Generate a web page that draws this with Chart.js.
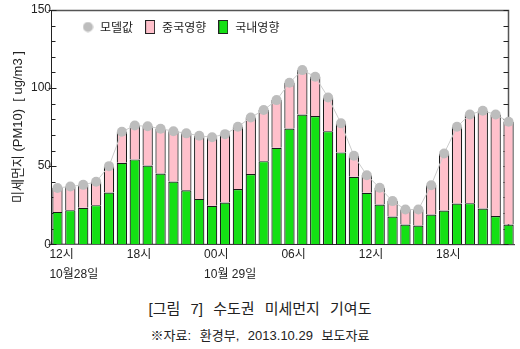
<!DOCTYPE html>
<html lang="ko">
<head>
<meta charset="utf-8">
<script src="https://cdn.jsdelivr.net/npm/chart.js@4.4.1/dist/chart.umd.min.js"></script>
<style>
  html, body { margin: 0; padding: 0; background: #fff; }
  body { width: 520px; height: 349px; position: relative; overflow: hidden;
         font-family: 'Liberation Sans', 'Noto Sans CJK KR', sans-serif; color: #222; }
  #wrap { position: absolute; left: 0; top: 0; width: 520px; height: 290px; }
  .cap { position: absolute; left: 0; width: 520px; text-align: center; white-space: nowrap; }
  #cap1 { top: 299px; font-size: 15px; line-height: 20px; word-spacing: 6px; }
  #cap2 { top: 328px; font-size: 13px; line-height: 16px; word-spacing: 5px; }
</style>
</head>
<body>
<div id="wrap"><canvas id="pm10Chart" width="520" height="290"></canvas></div>
<div class="cap" id="cap1">[그림 7] 수도권 미세먼지 기여도</div>
<div class="cap" id="cap2">※자료: 환경부, 2013.10.29 보도자료</div>
<script>
// hours from 10/28 12시 to 10/29 23시
var hourLabels = ['12시','13시','14시','15시','16시','17시','18시','19시','20시','21시','22시','23시',
                  '00시','01시','02시','03시','04시','05시','06시','07시','08시','09시','10시','11시',
                  '12시','13시','14시','15시','16시','17시','18시','19시','20시','21시','22시','23시'];
var dayLabels = ['10월28일', '10월 29일'];
var dayStart = [0, 12];

// 모델값 (grey dots)
var modelValues = [36, 37, 38, 40, 50, 72, 76, 75.5, 74, 72.4, 71, 69.5,
                   68.5, 70.5, 75.2, 81.2, 85.9, 92.3, 103.4, 111.5, 107.3, 94, 77.4, 56.7,
                   44.2, 36.1, 27.6, 22.2, 22.2, 37.8, 58.1, 75.2, 83.1, 85.5, 83.1, 78.4];
// 국내영향 (green)
var domesticValues = [20.7, 21.8, 23.3, 25, 33.1, 52.1, 54.3, 50.4, 45.3, 40.2, 34.6, 29,
                      24.6, 26.7, 35.3, 44.9, 53.2, 61.8, 74.1, 83.1, 82.1, 72.4, 58.8, 43.2,
                      32.9, 25.4, 17.7, 12.6, 12, 19, 21.6, 26.1, 26.3, 22.9, 18, 12.6];
// 중국영향 (pink, stacked on top)
var chinaValues = [15.3, 15.2, 14.7, 15, 16.9, 19.9, 21.7, 25.1, 28.7, 32.2, 36.4, 40.5,
                   43.9, 43.8, 39.9, 36.3, 32.7, 30.5, 29.3, 28.4, 25.2, 21.6, 18.6, 13.5,
                   11.3, 10.7, 9.9, 9.6, 10.2, 18.8, 36.5, 49.1, 56.8, 62.6, 65.1, 65.8];

var yTicks = [0, 50, 100, 150];

var fontFamily = "'Liberation Sans', 'Noto Sans CJK KR', sans-serif";
Chart.defaults.font.family = fontFamily;
Chart.defaults.color = '#222';

function legendMark(kind, fill) {
    var c = document.createElement('canvas');
    var g = c.getContext('2d');
    if (kind == 'dot') {
        c.width = 11; c.height = 11;
        g.fillStyle = fill;
        g.beginPath(); g.arc(5.5, 5.5, 5, 0, Math.PI * 2); g.fill();
    } else {
        c.width = 10; c.height = 14;
        g.fillStyle = fill;
        g.fillRect(1, 1, 8, 12);
        g.strokeStyle = '#222'; g.lineWidth = 1;
        g.strokeRect(0.5, 0.5, 9, 13);
    }
    return c;
}
var marks = [legendMark('dot', '#bdbdbd'), legendMark('box', '#ffc0cb'), legendMark('box', '#14e014')];

var plotFrame = {
    id: 'plotFrame',
    afterLayout: function(chart) {
        // legend sits inside the plot, top-left
        var lg = chart.legend;
        lg.left = chart.chartArea.left + 20;
        lg.height = 40;
        lg.bottom = lg.top + 40;
    },
    beforeDatasetsDraw: function(chart) {
        var ctx = chart.ctx, a = chart.chartArea, y = chart.scales.y;
        var left = a.left + 0.5, right = a.right - 6.5, top = a.top + 0.5, bottom = a.bottom;
        ctx.save();
        ctx.strokeStyle = '#555';
        ctx.lineWidth = 1.5;
        ctx.beginPath();
        ctx.moveTo(left, top); ctx.lineTo(right, top); ctx.lineTo(right, bottom);
        ctx.stroke();
        ctx.strokeStyle = '#222';
        ctx.lineWidth = 1;
        ctx.beginPath();
        ctx.moveTo(left, top); ctx.lineTo(left, bottom); ctx.lineTo(a.right, bottom + 0.5);
        ctx.stroke();
        ctx.beginPath();
        for (var v = 0; v <= 150; v += 10) {
            var py = Math.round(y.getPixelForValue(v)) + 0.5;
            var major = v % 50 == 0;
            ctx.moveTo(left - (major ? 3 : 0), py); ctx.lineTo(left + (major ? 5 : 4), py);
            ctx.moveTo(right - 5, py); ctx.lineTo(right, py);
        }
        ctx.stroke();
        ctx.restore();
    }
};

var myChart = new Chart(document.getElementById('pm10Chart'), {
    data: {
        labels: hourLabels,
        datasets: [
            {
                type: 'line',
                label: '모델값',
                data: modelValues,
                stack: 'model',
                order: 0,
                borderColor: '#cccccc',
                borderWidth: 1,
                tension: 0,
                pointRadius: 5,
                pointBorderWidth: 0,
                pointBackgroundColor: '#bdbdbd'
            },
            {
                type: 'bar',
                label: '중국영향',
                data: chinaValues,
                stack: 'bar',
                order: 2,
                backgroundColor: '#ffc0cb',
                borderColor: '#1a1a1a',
                borderWidth: 1.2,
                barPercentage: 0.8,
                categoryPercentage: 1
            },
            {
                type: 'bar',
                label: '국내영향',
                data: domesticValues,
                stack: 'bar',
                order: 1,
                backgroundColor: '#14e014',
                borderColor: '#1a1a1a',
                borderWidth: 1.2,
                barPercentage: 0.8,
                categoryPercentage: 1
            }
        ]
    },
    options: {
        responsive: false,
        animation: false,
        layout: { padding: { top: 10, right: 5, bottom: 5, left: 0 } },
        plugins: {
            tooltip: { enabled: false },
            legend: {
                position: 'top',
                align: 'start',
                maxHeight: 0.01,
                labels: {
                    usePointStyle: true,
                    boxWidth: 12,
                    boxHeight: 12,
                    padding: 11,
                    color: '#222',
                    font: { size: 12, family: "'Noto Sans CJK KR', sans-serif" },
                    sort: function(a, b) { return a.datasetIndex - b.datasetIndex; },
                    generateLabels: function(chart) {
                        var items = Chart.defaults.plugins.legend.labels.generateLabels(chart);
                        items.forEach(function(it) { it.pointStyle = marks[it.datasetIndex]; });
                        return items;
                    }
                }
            }
        },
        scales: {
            x: {
                stacked: true,
                grid: { display: false, drawTicks: false },
                border: { display: false },
                ticks: {
                    autoSkip: false,
                    maxRotation: 0,
                    align: 'start',
                    labelOffset: -8,
                    padding: 0,
                    color: '#222',
                    font: { size: 12, lineHeight: 1.7 },
                    callback: function(value, index) {
                        if (index % 6 != 0) return '';
                        var d = dayStart.indexOf(index);
                        return d >= 0 ? [hourLabels[index], dayLabels[d]] : hourLabels[index];
                    }
                }
            },
            y: {
                stacked: true,
                min: 0,
                max: 150,
                afterFit: function(scale) { scale.width = 51; },
                grid: { display: false, drawTicks: false },
                border: { display: false },
                ticks: {
                    stepSize: 10,
                    autoSkip: false,
                    padding: 0,
                    color: '#222',
                    font: { size: 12 },
                    callback: function(v) { return yTicks.indexOf(v) >= 0 ? v : ''; }
                },
                title: {
                    display: true,
                    text: '미세먼지 (PM10)  [ ug/m3 ]',
                    color: '#222',
                    font: { size: 13 },
                    padding: { top: 11, bottom: 0 }
                }
            }
        }
    },
    plugins: [plotFrame]
});
</script>
</body>
</html>
